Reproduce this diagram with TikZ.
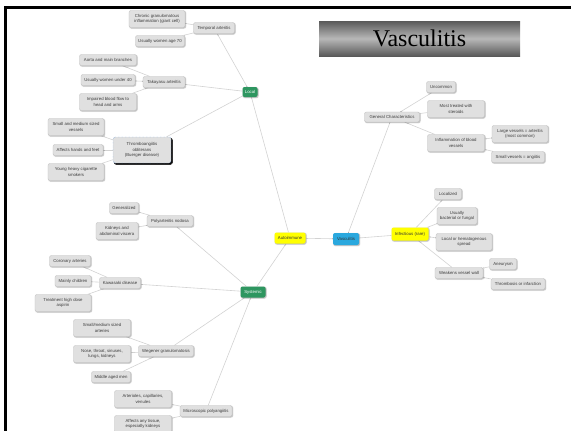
\documentclass[tikz,border=0pt]{standalone}
\usepackage{fontspec}
\setmainfont{Liberation Sans}
\newfontfamily\titlefont{Liberation Serif}
\usepackage{tikz}
\usetikzlibrary{backgrounds}
\usetikzlibrary{shadows.blur}

\definecolor{leafgray}{RGB}{224,224,224}
\definecolor{leafline}{RGB}{196,196,196}
\definecolor{leaftext}{RGB}{60,60,60}
\definecolor{linkgray}{RGB}{210,210,210}
\definecolor{topicgreen}{RGB}{46,150,96}
\definecolor{rootblue}{RGB}{42,168,222}
\definecolor{branchyellow}{RGB}{255,255,0}
\definecolor{pickblue}{RGB}{90,150,220}

\begin{document}
\begin{tikzpicture}[x=1pt, y=-1pt,
            leaf/.style={rectangle, draw=leafline, fill=leafgray, rounded corners=2pt,
            text=leaftext, align=center, font=\fontsize{4.3}{5.6}\selectfont,
            inner sep=1pt, minimum height=11pt,
            blur shadow={shadow xshift=0.7pt, shadow yshift=-0.7pt, shadow blur radius=1pt, shadow opacity=35}},
            twoline/.style={minimum height=17pt},
            topic/.style={leaf, draw=none, fill=topicgreen, text=white},
            root/.style={leaf, draw=none, fill=rootblue, text=black!80},
            branch/.style={leaf, draw=none, fill=branchyellow, text=black!80},
            picked/.style={leaf, draw=pickblue, densely dotted, fill=leafgray,
            blur shadow={shadow xshift=1.3pt, shadow yshift=-1.3pt, shadow blur radius=0.6pt, shadow opacity=90}},
            link/.style={draw=linkgray, line width=0.6pt}]
    \useasboundingbox (0,0) rectangle (571,431);

    % frame and title
    \draw[line width=3.3pt] (5.7,440) -- (5.7,7.7) -- (575,7.7);
    \node (title) at (419.5,38.5) [minimum width=201pt, minimum height=35pt, inner sep=0pt,
        top color=black!65, bottom color=black!65, middle color=black!28,
        font=\titlefont\fontsize{24}{24}\selectfont] {Vasculitis};

    % centre
    \node (vasc) at (346,239) [root, minimum width=26pt, minimum height=12pt] {Vasculitis};
    \node (auto) at (290,238) [branch, minimum width=31pt] {Autoimmune};
    \node (infect) at (410,234) [branch, minimum width=37pt, minimum height=13pt] {Infectious (rare)};
    \node (local) at (250,92) [topic, minimum width=15pt, minimum height=10pt] {Local};
    \node (systemic) at (253,292) [topic, minimum width=25pt] {Systemic};
    \node (general) at (392,117) [leaf, minimum width=55pt, minimum height=10pt] {General Characteristics};

    % local
    \node (temporal) at (214,28) [leaf, minimum width=41pt] {Temporal arteritis};
    \node (chronic) at (157,19) [leaf, twoline, minimum width=56pt] {Chronic granulomatous\\inflammation (giant cell)};
    \node (age70) at (160,41) [leaf, minimum width=49pt] {Usually women age 70};
    \node (takayasu) at (164,82) [leaf, minimum width=42pt] {Takayasu arteritis};
    \node (aorta) at (108,60) [leaf, minimum width=57pt] {Aorta and main branches};
    \node (under40) at (108,80) [leaf, minimum width=54pt] {Usually women under 40};
    \node (impaired) at (108,102) [leaf, twoline, minimum width=57pt] {Impaired blood flow to\\head and arms};
    \node (buerger) at (142,150) [picked, minimum width=58pt, minimum height=26pt] {Thromboangiitis\\obliterans\\(Buerger disease)};
    \node (smallmed) at (76,127) [leaf, twoline, minimum width=56pt] {Small and medium sized\\vessels};
    \node (hands) at (78,150) [leaf, minimum width=50pt] {Affects hands and feet};
    \node (smokers) at (76,172) [leaf, twoline, minimum width=56pt] {Young heavy cigarette\\smokers};

    % systemic
    \node (pan) at (170,221) [leaf, minimum width=46pt] {Polyarteritis nodosa};
    \node (generalized) at (124,208) [leaf, minimum width=29pt] {Generalized};
    \node (kidneys) at (117,231) [leaf, twoline, minimum width=42pt] {Kidneys and\\abdominal viscera};
    \node (kawasaki) at (120,283) [leaf, minimum width=41pt] {Kawasaki disease};
    \node (coronary) at (70,261) [leaf, minimum width=41pt] {Coronary arteries};
    \node (children) at (73,281) [leaf, minimum width=36pt] {Mainly children};
    \node (aspirin) at (63,303) [leaf, twoline, minimum width=56pt] {Treatment high dose\\aspirin};
    \node (wegener) at (166,351) [leaf, minimum width=55pt] {Wegener granulomatosis};
    \node (smallart) at (102,328) [leaf, twoline, minimum width=57pt] {Small/medium sized\\arteries};
    \node (nose) at (102,354) [leaf, twoline, minimum width=57pt] {Nose, throat, sinuses,\\lungs, kidneys};
    \node (men) at (111,377) [leaf, minimum width=39pt] {Middle aged men};
    \node (mpa) at (206,411) [leaf, minimum width=52pt] {Microscopic polyangiitis};
    \node (arterioles) at (143,399) [leaf, twoline, minimum width=57pt] {Arterioles, capillaries,\\venules};
    \node (anytissue) at (143,424) [leaf, twoline, minimum width=57pt] {Affects any tissue,\\especially kidneys};

    % general characteristics
    \node (uncommon) at (441,87) [leaf, minimum width=29pt] {Uncommon};
    \node (steroids) at (456,109) [leaf, twoline, minimum width=57pt] {Most treated with\\steroids};
    \node (inflam) at (456,143) [leaf, twoline, minimum width=57pt] {Inflammation of blood\\vessels};
    \node (large) at (520,134) [leaf, twoline, minimum width=56pt] {Large vessels = arteritis\\(most common)};
    \node (smallv) at (518,157) [leaf, minimum width=53pt] {Small vessels = angiitis};

    % infectious
    \node (localized) at (448,194) [leaf, minimum width=27pt] {Localized};
    \node (bacterial) at (457,216) [leaf, twoline, minimum width=40pt] {Usually\\bacterial or fungal};
    \node (spread) at (464,242) [leaf, twoline, minimum width=56pt] {Local or hematogenous\\spread};
    \node (weakens) at (459,273) [leaf, minimum width=48pt] {Weakens vessel wall};
    \node (aneurysm) at (503,264) [leaf, minimum width=27pt] {Aneurysm};
    \node (thrombosis) at (518,284) [leaf, minimum width=54pt] {Thrombosis or infarction};

    \begin{scope}[on background layer]
        \draw[link] (vasc) -- (auto);
        \draw[link] (vasc) -- (infect);
        \draw[link] (vasc) -- (general);
        \draw[link] (auto) -- (local);
        \draw[link] (auto) -- (systemic);
        \draw[link] (local) -- (temporal);
        \draw[link] (local) -- (takayasu);
        \draw[link] (local) -- (buerger);
        \draw[link] (temporal) -- (chronic);
        \draw[link] (temporal) -- (age70);
        \draw[link] (takayasu) -- (aorta);
        \draw[link] (takayasu) -- (under40);
        \draw[link] (takayasu) -- (impaired);
        \draw[link] (buerger) -- (smallmed);
        \draw[link] (buerger) -- (hands);
        \draw[link] (buerger) -- (smokers);
        \draw[link] (systemic) -- (pan);
        \draw[link] (systemic) -- (kawasaki);
        \draw[link] (systemic) -- (wegener);
        \draw[link] (systemic) -- (mpa);
        \draw[link] (pan) -- (generalized);
        \draw[link] (pan) -- (kidneys);
        \draw[link] (kawasaki) -- (coronary);
        \draw[link] (kawasaki) -- (children);
        \draw[link] (kawasaki) -- (aspirin);
        \draw[link] (wegener) -- (smallart);
        \draw[link] (wegener) -- (nose);
        \draw[link] (wegener) -- (men);
        \draw[link] (mpa) -- (arterioles);
        \draw[link] (mpa) -- (anytissue);
        \draw[link] (general) -- (uncommon);
        \draw[link] (general) -- (steroids);
        \draw[link] (general) -- (inflam);
        \draw[link] (inflam) -- (large);
        \draw[link] (inflam) -- (smallv);
        \draw[link] (infect) -- (localized);
        \draw[link] (infect) -- (bacterial);
        \draw[link] (infect) -- (spread);
        \draw[link] (infect) -- (weakens);
        \draw[link] (weakens) -- (aneurysm);
        \draw[link] (weakens) -- (thrombosis);
    \end{scope}
\end{tikzpicture}
\end{document}
